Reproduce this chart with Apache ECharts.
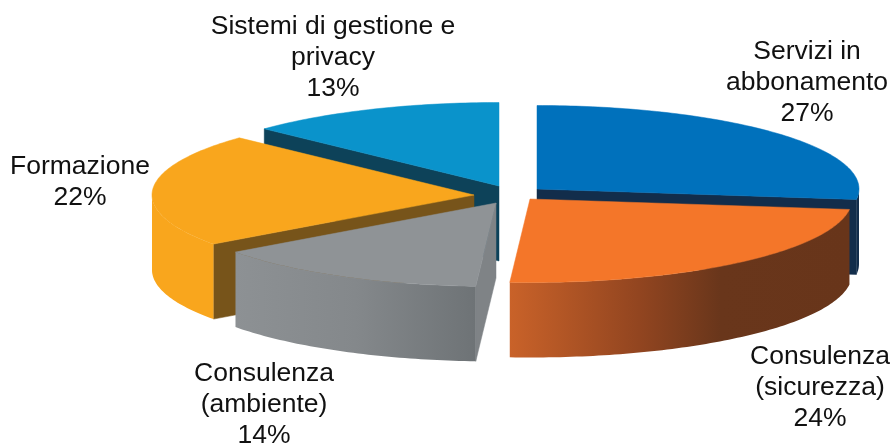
<!DOCTYPE html>
<html>
<head>
<meta charset="utf-8">
<style>html,body{margin:0;padding:0;background:#fff}#c{width:895px;height:445px}</style>
<script src="https://cdn.jsdelivr.net/npm/echarts@6/dist/echarts.min.js"></script>
</head>
<body>
<div id="c"></div>
<script>
// Data, clockwise from 12 o'clock
const categories = ['Servizi in\nabbonamento', 'Consulenza\n(sicurezza)', 'Consulenza\n(ambiente)', 'Formazione', 'Sistemi di gestione e\nprivacy'];
const values = [27, 24, 14, 22, 13];

// Back-to-front painting order of the slices
const paintOrder = [4, 0, 3, 1, 2];

// Projection of the tilted pie
const RX = 322, RY = 83.5, DEPTH = 75;
const apex = [[537, 189], [530, 199], [496, 203], [474, 195], [499, 186]];

// Styles
const grad = (stops) => ({
  type: 'linear', x: 0, y: 0, x2: 1, y2: 0,
  colorStops: stops.map(s => ({ offset: s[0], color: s[1] }))
});
const topColors = ['#0071bc', '#f47629', '#8f9396', '#f9a61d', '#0a93cb'];
const cutColors = ['#122d4b', '#68351a', '#7f8386', '#77541a', '#0d4259'];
const sideColors = [
  '#122d4b',
  grad([[0, '#c96229'], [0.38, '#924520'], [0.62, '#69361b'], [1, '#68351a']]),
  grad([[0, '#8d9194'], [0.5, '#84888b'], [1, '#6e7376']]),
  '#f9a61d',
  '#0d4259'
];
const labelPos = [[807, 83], [820, 388], [264, 405], [80, 182], [333, 58]];
const FONT = 'Liberation Sans';

const total = values.reduce((a, b) => a + b, 0);
const starts = [];
values.reduce((acc, v, i) => { starts[i] = acc / total * 360; return acc + v; }, 0);

const rad = d => d * Math.PI / 180;
const pt = (c, deg) => [c[0] + RX * Math.sin(rad(deg)), c[1] - RY * Math.cos(rad(deg))];
const arc = (c, a, b) => {
  const n = Math.max(2, Math.ceil(Math.abs(b - a)));
  const out = [];
  for (let i = 0; i <= n; i++) out.push(pt(c, a + (b - a) * i / n));
  return out;
};
const down = p => [p[0], p[1] + DEPTH];
const poly = (points, fill, stroke) => ({
  type: 'polygon', shape: { points },
  style: { fill, stroke: stroke || fill, lineWidth: 0.5 }
});

function renderItem(params, api) {
  const i = api.value(0);
  const c = apex[i];
  const a = starts[i];
  const b = a + api.value(1) / total * 360;
  const kids = [];

  // radial cut faces, only if they face the viewer
  if (Math.sin(rad(a)) < -1e-6) {
    const p = pt(c, a);
    kids.push(poly([c, p, down(p), down(c)], cutColors[i]));
  }
  if (Math.sin(rad(b)) > 1e-6) {
    const p = pt(c, b);
    kids.push(poly([c, p, down(p), down(c)], cutColors[i]));
  }
  // outer wall: front half only
  const s = Math.max(a, 90), e = Math.min(b, 270);
  if (e > s) {
    const top = arc(c, s, e);
    kids.push(poly(top.concat(top.slice().reverse().map(down)), sideColors[i], 'none'));
  }
  // top surface
  kids.push(poly([c].concat(arc(c, a, b)), topColors[i]));
  return { type: 'group', children: kids };
}

function renderLabels(params, api) {
  const i = api.value(0);
  return {
    type: 'text',
    x: labelPos[i][0],
    y: labelPos[i][1],
    style: {
      text: categories[i] + '\n' + api.value(1) + '%',
      font: '26.5px "' + FONT + '"',
      fill: '#111111',
      align: 'center',
      verticalAlign: 'middle',
      lineHeight: 31
    }
  };
}

const sliceData = paintOrder.map(i => [i, values[i]]);

const chart = echarts.init(document.getElementById('c'), null, { renderer: 'canvas' });
chart.setOption({
  animation: false,
  backgroundColor: '#ffffff',
  tooltip: { show: false },
  series: [
    { type: 'custom', coordinateSystem: 'none', renderItem, data: sliceData, silent: true, z: 1 },
    { type: 'custom', coordinateSystem: 'none', renderItem: renderLabels, data: sliceData, silent: true, z: 2 }
  ]
});
</script>
</body>
</html>
